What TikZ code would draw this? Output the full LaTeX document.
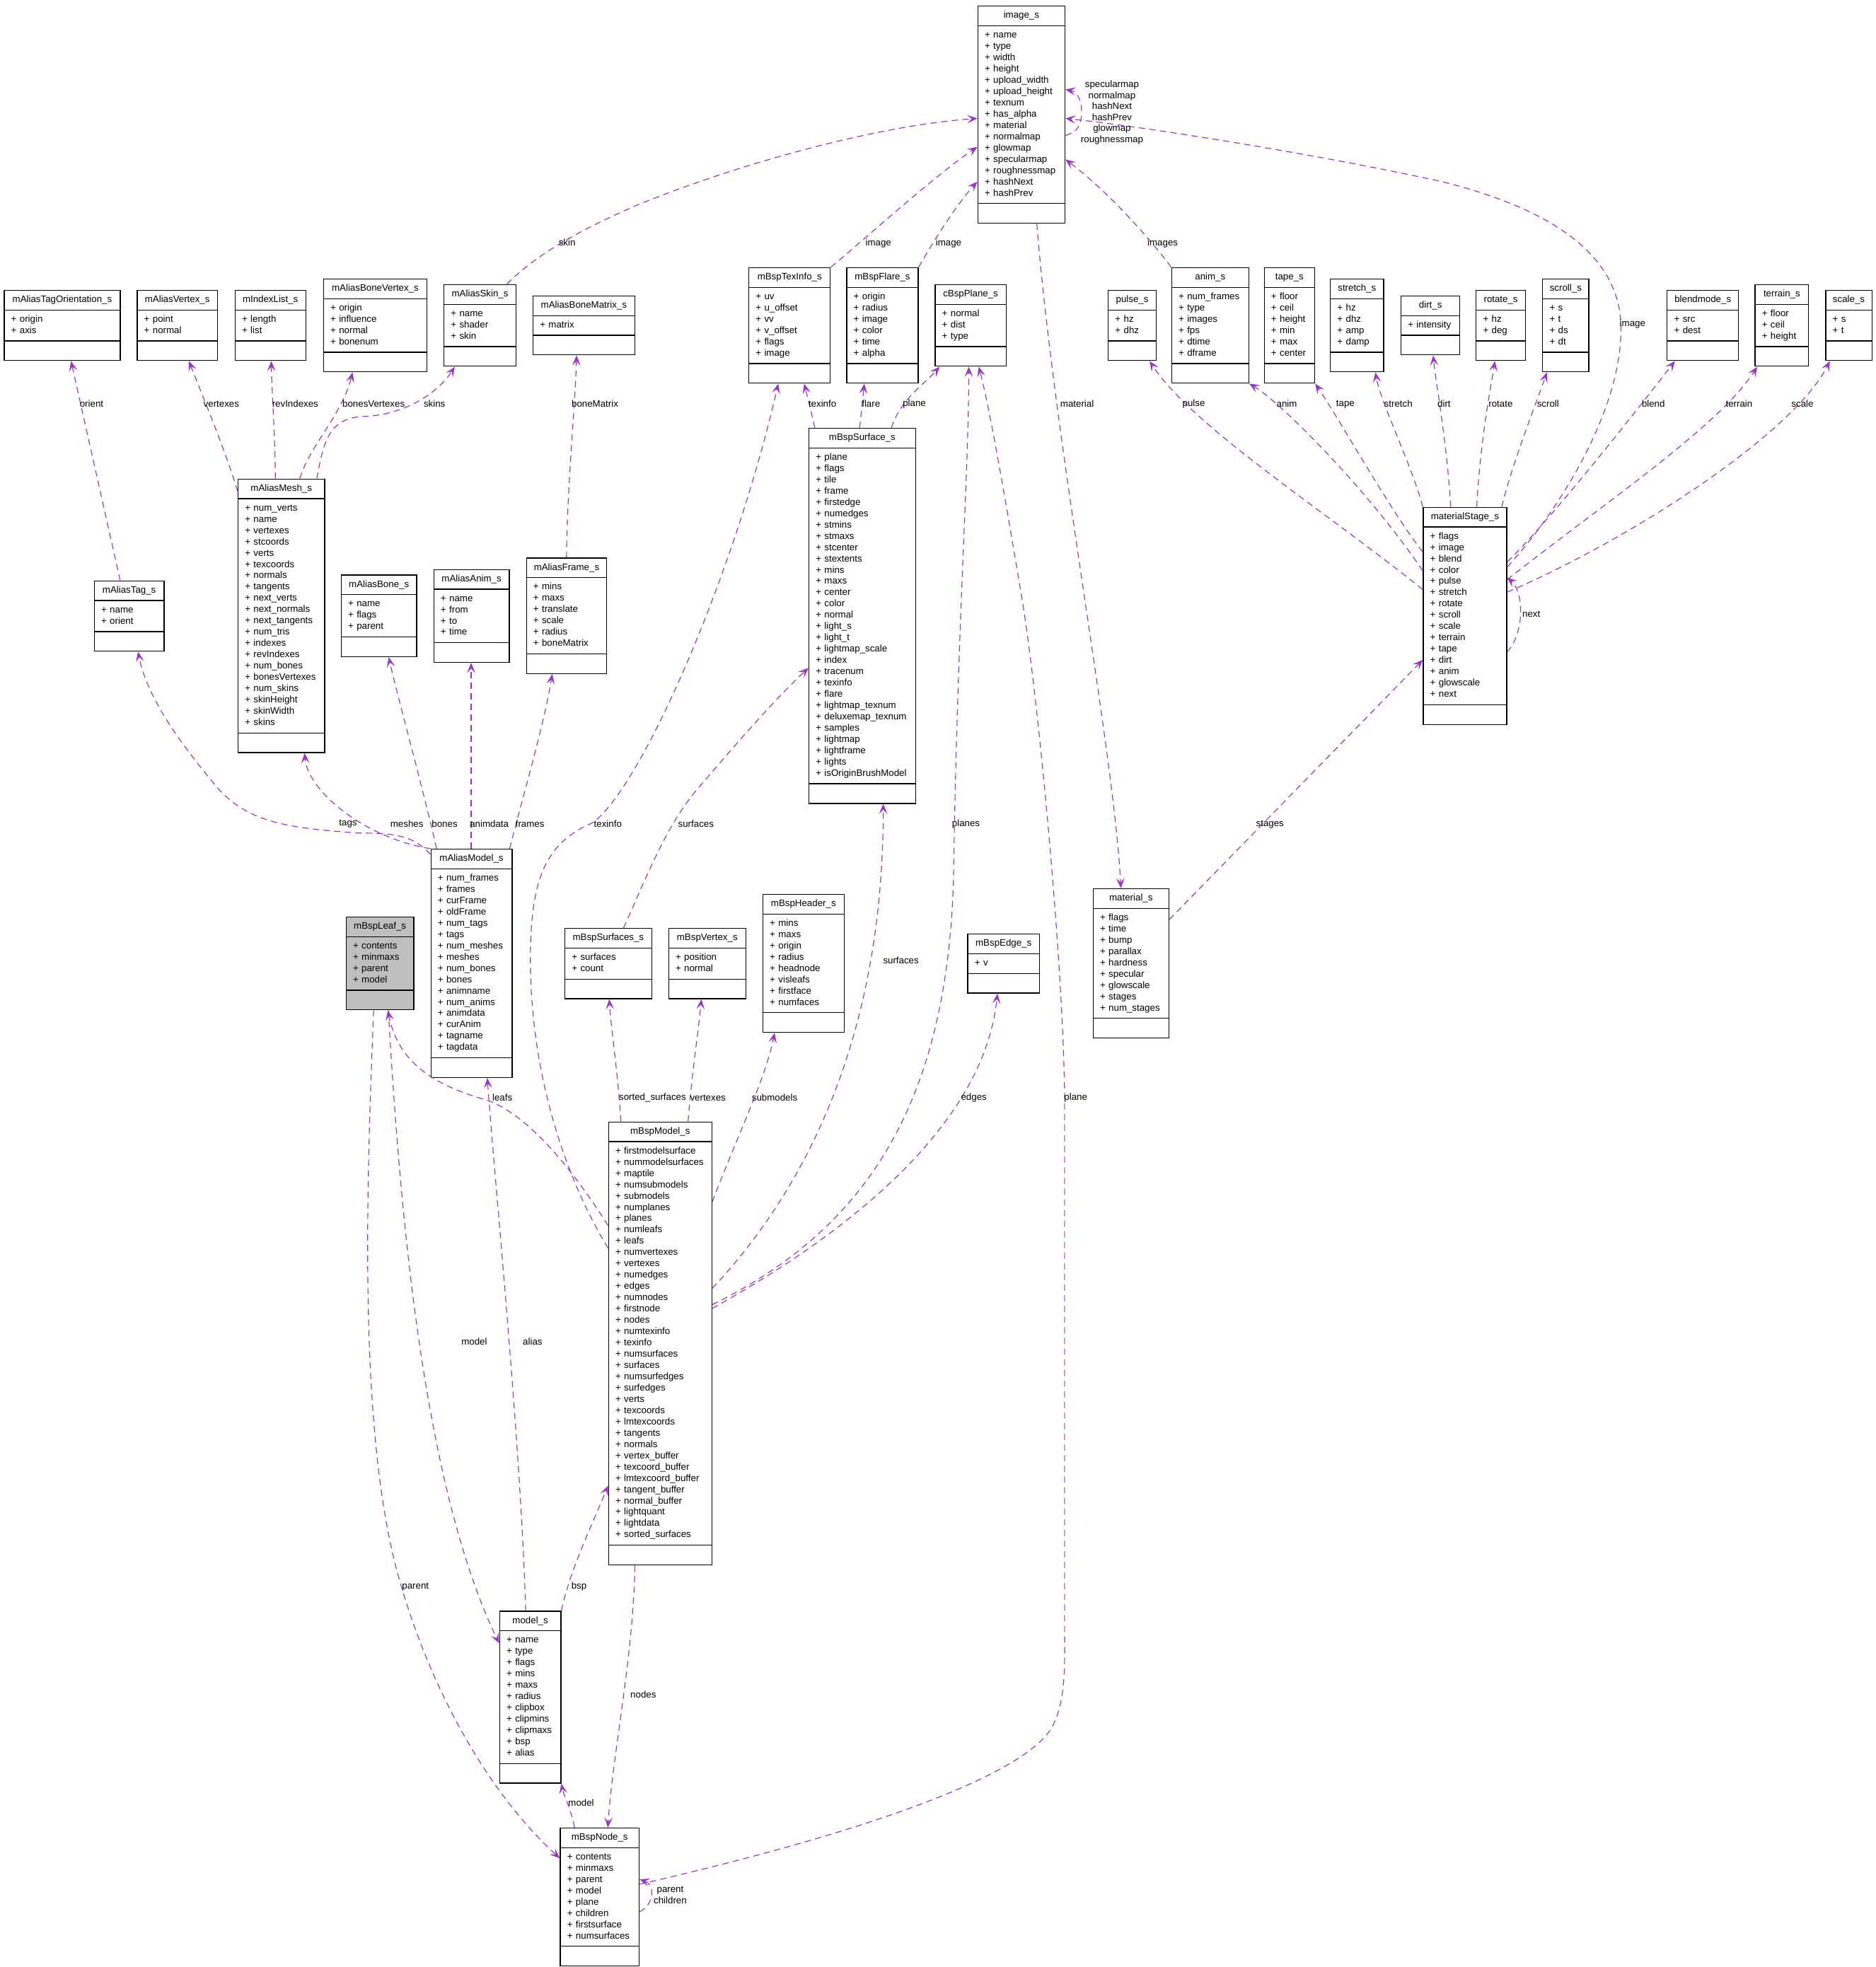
\documentclass[tikz,border=0pt]{standalone}
\usepackage{fontspec}
\setmainfont{Liberation Sans}
\usepackage{tikz}
\usetikzlibrary{shapes.multipart, arrows.meta}
\definecolor{edgepurple}{RGB}{154,50,205}
\definecolor{leafgray}{RGB}{191,191,191}
\tikzset{
  cls/.style={rectangle split, rectangle split parts=3, draw=black, line width=0.7pt, fill=white,
    anchor=north west, inner xsep=5.5pt, inner ysep=3pt, text width=#1, align=left,
    font=\fontsize{7.5}{9}\selectfont},
  rel/.style={draw=edgepurple, line width=0.65pt, dash pattern=on 5pt off 3.5pt,
    -{Stealth[length=8pt,width=6.5pt,inset=3.5pt]}},
  lbl/.style={font=\fontsize{7.5}{8.8}\selectfont, inner sep=0pt, align=center}
}
\newcommand{\ctitle}[1]{\makebox[\linewidth][c]{\strut #1}}

\begin{document}
\begin{tikzpicture}[x=1pt, y=-1pt]
  \useasboundingbox (0,0) rectangle (1495,1568);

  % top row
  \node[cls=58.5pt] (imgs) at (779,4.5) {\ctitle{image\_s}
    \nodepart{two}\strut+ name\\+ type\\+ width\\+ height\\+ upload\_width\\+ upload\_height\\+ texnum\\+ has\_alpha\\+ material\\+ normalmap\\+ glowmap\\+ specularmap\\+ roughnessmap\\+ hashNext\\+ hashPrev\strut
    \nodepart{three}\strut};
  \node[cls=81.5pt] (tagor) at (3,231) {\ctitle{mAliasTagOrientation\_s}
    \nodepart{two}\strut+ origin\\+ axis\strut \nodepart{three}\strut};
  \node[cls=53pt] (avert) at (109,231) {\ctitle{mAliasVertex\_s}
    \nodepart{two}\strut+ point\\+ normal\strut \nodepart{three}\strut};
  \node[cls=45.3pt] (idxl) at (187,231) {\ctitle{mIndexList\_s}
    \nodepart{two}\strut+ length\\+ list\strut \nodepart{three}\strut};
  \node[cls=71.5pt] (bvert) at (257.5,222) {\ctitle{mAliasBoneVertex\_s}
    \nodepart{two}\strut+ origin\\+ influence\\+ normal\\+ bonenum\strut \nodepart{three}\strut};
  \node[cls=46.5pt] (askin) at (353.5,226.5) {\ctitle{mAliasSkin\_s}
    \nodepart{two}\strut+ name\\+ shader\\+ skin\strut \nodepart{three}\strut};
  \node[cls=70pt] (bmat) at (424.5,235.5) {\ctitle{mAliasBoneMatrix\_s}
    \nodepart{two}\strut+ matrix\strut \nodepart{three}\strut};
  \node[cls=54pt] (texi) at (596.5,213) {\ctitle{mBspTexInfo\_s}
    \nodepart{two}\strut+ uv\\+ u\_offset\\+ vv\\+ v\_offset\\+ flags\\+ image\strut \nodepart{three}\strut};
  \node[cls=46pt] (flare) at (674.5,213) {\ctitle{mBspFlare\_s}
    \nodepart{two}\strut+ origin\\+ radius\\+ image\\+ color\\+ time\\+ alpha\strut \nodepart{three}\strut};
  \node[cls=45.5pt] (planeS) at (745,226.5) {\ctitle{cBspPlane\_s}
    \nodepart{two}\strut+ normal\\+ dist\\+ type\strut \nodepart{three}\strut};
  \node[cls=27.2pt] (pulse) at (883,231) {\ctitle{pulse\_s}
    \nodepart{two}\strut+ hz\\+ dhz\strut \nodepart{three}\strut};
  \node[cls=50.5pt] (anim) at (933.5,213) {\ctitle{anim\_s}
    \nodepart{two}\strut+ num\_frames\\+ type\\+ images\\+ fps\\+ dtime\\+ dframe\strut \nodepart{three}\strut};
  \node[cls=29.2pt] (tape) at (1007.3,213) {\ctitle{tape\_s}
    \nodepart{two}\strut+ floor\\+ ceil\\+ height\\+ min\\+ max\\+ center\strut \nodepart{three}\strut};
  \node[cls=31.5pt] (stretch) at (1060,222) {\ctitle{stretch\_s}
    \nodepart{two}\strut+ hz\\+ dhz\\+ amp\\+ damp\strut \nodepart{three}\strut};
  \node[cls=36pt] (dirt) at (1116.3,235.5) {\ctitle{dirt\_s}
    \nodepart{two}\strut+ intensity\strut \nodepart{three}\strut};
  \node[cls=28.3pt] (rotate) at (1176.2,231) {\ctitle{rotate\_s}
    \nodepart{two}\strut+ hz\\+ deg\strut \nodepart{three}\strut};
  \node[cls=25.8pt] (scroll) at (1229.2,222) {\ctitle{scroll\_s}
    \nodepart{two}\strut+ s\\+ t\\+ ds\\+ dt\strut \nodepart{three}\strut};
  \node[cls=45.8pt] (blend) at (1328.5,231) {\ctitle{blendmode\_s}
    \nodepart{two}\strut+ src\\+ dest\strut \nodepart{three}\strut};
  \node[cls=31.7pt] (terrain) at (1398.5,226.5) {\ctitle{terrain\_s}
    \nodepart{two}\strut+ floor\\+ ceil\\+ height\strut \nodepart{three}\strut};
  \node[cls=25.8pt] (scaleS) at (1454.8,231) {\ctitle{scale\_s}
    \nodepart{two}\strut+ s\\+ t\strut \nodepart{three}\strut};

  % middle row
  \node[cls=58pt] (mesh) at (189.4,381.5) {\ctitle{mAliasMesh\_s}
    \nodepart{two}\strut+ num\_verts\\+ name\\+ vertexes\\+ stcoords\\+ verts\\+ texcoords\\+ normals\\+ tangents\\+ next\_verts\\+ next\_normals\\+ next\_tangents\\+ num\_tris\\+ indexes\\+ revIndexes\\+ num\_bones\\+ bonesVertexes\\+ num\_skins\\+ skinHeight\\+ skinWidth\\+ skins\strut
    \nodepart{three}\strut};
  \node[cls=74pt] (surf) at (644.4,341) {\ctitle{mBspSurface\_s}
    \nodepart{two}\strut+ plane\\+ flags\\+ tile\\+ frame\\+ firstedge\\+ numedges\\+ stmins\\+ stmaxs\\+ stcenter\\+ stextents\\+ mins\\+ maxs\\+ center\\+ color\\+ normal\\+ light\_s\\+ light\_t\\+ lightmap\_scale\\+ index\\+ tracenum\\+ texinfo\\+ flare\\+ lightmap\_texnum\\+ deluxemap\_texnum\\+ samples\\+ lightmap\\+ lightframe\\+ lights\\+ isOriginBrushModel\strut
    \nodepart{three}\strut};
  \node[cls=44.7pt] (atag) at (74.8,462.7) {\ctitle{mAliasTag\_s}
    \nodepart{two}\strut+ name\\+ orient\strut \nodepart{three}\strut};
  \node[cls=49.2pt] (abone) at (271.6,458) {\ctitle{mAliasBone\_s}
    \nodepart{two}\strut+ name\\+ flags\\+ parent\strut \nodepart{three}\strut};
  \node[cls=49.2pt] (aanim) at (345.4,453.6) {\ctitle{mAliasAnim\_s}
    \nodepart{two}\strut+ name\\+ from\\+ to\\+ time\strut \nodepart{three}\strut};
  \node[cls=53.1pt] (aframe) at (419.2,444.5) {\ctitle{mAliasFrame\_s}
    \nodepart{two}\strut+ mins\\+ maxs\\+ translate\\+ scale\\+ radius\\+ boneMatrix\strut \nodepart{three}\strut};
  \node[cls=55.6pt] (stage) at (1134,404) {\ctitle{materialStage\_s}
    \nodepart{two}\strut+ flags\\+ image\\+ blend\\+ color\\+ pulse\\+ stretch\\+ rotate\\+ scroll\\+ scale\\+ terrain\\+ tape\\+ dirt\\+ anim\\+ glowscale\\+ next\strut
    \nodepart{three}\strut};
  \node[cls=53.7pt] (amodel) at (343.1,676.5) {\ctitle{mAliasModel\_s}
    \nodepart{two}\strut+ num\_frames\\+ frames\\+ curFrame\\+ oldFrame\\+ num\_tags\\+ tags\\+ num\_meshes\\+ meshes\\+ num\_bones\\+ bones\\+ animname\\+ num\_anims\\+ animdata\\+ curAnim\\+ tagname\\+ tagdata\strut
    \nodepart{three}\strut};
  \node[cls=43pt, fill=leafgray] (leaf) at (275.5,730.6) {\ctitle{mBspLeaf\_s}
    \nodepart{two}\strut+ contents\\+ minmaxs\\+ parent\\+ model\strut \nodepart{three}\strut};
  \node[cls=58.1pt] (surfs) at (449.9,739.7) {\ctitle{mBspSurfaces\_s}
    \nodepart{two}\strut+ surfaces\\+ count\strut \nodepart{three}\strut};
  \node[cls=50.5pt] (bvtx) at (532.6,739.7) {\ctitle{mBspVertex\_s}
    \nodepart{two}\strut+ position\\+ normal\strut \nodepart{three}\strut};
  \node[cls=53.7pt] (hdr) at (607.7,712.5) {\ctitle{mBspHeader\_s}
    \nodepart{two}\strut+ mins\\+ maxs\\+ origin\\+ radius\\+ headnode\\+ visleafs\\+ firstface\\+ numfaces\strut \nodepart{three}\strut};
  \node[cls=46.1pt] (edge) at (771,744.2) {\ctitle{mBspEdge\_s}
    \nodepart{two}\strut+ v\strut \nodepart{three}\strut};
  \node[cls=49.4pt] (mat) at (870.9,708) {\ctitle{material\_s}
    \nodepart{two}\strut+ flags\\+ time\\+ bump\\+ parallax\\+ hardness\\+ specular\\+ glowscale\\+ stages\\+ num\_stages\strut \nodepart{three}\strut};

  % bottom
  \node[cls=71.3pt] (bmodel) at (484.7,894) {\ctitle{mBspModel\_s}
    \nodepart{two}\strut+ firstmodelsurface\\+ nummodelsurfaces\\+ maptile\\+ numsubmodels\\+ submodels\\+ numplanes\\+ planes\\+ numleafs\\+ leafs\\+ numvertexes\\+ vertexes\\+ numedges\\+ edges\\+ numnodes\\+ firstnode\\+ nodes\\+ numtexinfo\\+ texinfo\\+ numsurfaces\\+ surfaces\\+ numsurfedges\\+ surfedges\\+ verts\\+ texcoords\\+ lmtexcoords\\+ tangents\\+ normals\\+ vertex\_buffer\\+ texcoord\_buffer\\+ lmtexcoord\_buffer\\+ tangent\_buffer\\+ normal\_buffer\\+ lightquant\\+ lightdata\\+ sorted\_surfaces\strut
    \nodepart{three}\strut};
  \node[cls=37.8pt] (model) at (397.9,1284) {\ctitle{model\_s}
    \nodepart{two}\strut+ name\\+ type\\+ flags\\+ mins\\+ maxs\\+ radius\\+ clipbox\\+ clipmins\\+ clipmaxs\\+ bsp\\+ alias\strut \nodepart{three}\strut};
  \node[cls=51.8pt] (bnode) at (446.2,1456.8) {\ctitle{mBspNode\_s}
    \nodepart{two}\strut+ contents\\+ minmaxs\\+ parent\\+ model\\+ plane\\+ children\\+ firstsurface\\+ numsurfaces\strut \nodepart{three}\strut};

  % connectors
  \draw[rel] (mesh.west |- 0,391.6) .. controls (180,360) and (160,312) .. (avert.south -| 150.5,0);
  \draw[rel] (mesh.north -| 219.5,0) .. controls (219,340) and (216.5,310) .. (idxl.south -| 216.2,0);
  \draw[rel] (mesh.north -| 238.9,0) .. controls (247,355) and (273,330) .. (bvert.south -| 281,0);
  \draw[rel] (mesh.north -| 252.5,0) .. controls (258,352) and (262,333) .. (290,332) .. controls (320,331) and (348,315) .. (askin.south -| 362.5,0);
  \draw[rel] (atag.north -| 95.8,0) -- (tagor.south -| 56.6,0);
  \draw[rel] (aframe.north -| 451.5,0) .. controls (452,390) and (458,330) .. (bmat.south -| 459.6,0);
  \draw[rel] (askin.north -| 404,0) .. controls (430,200) and (470,180) .. (507.5,163.6) .. controls (590,130) and (700,100) .. (imgs.west |- 0,94.4);
  \draw[rel] (texi.north east) .. controls (690,190) and (745,140) .. (imgs.west |- 0,117.1);
  \draw[rel] (flare.north east) .. controls (745,190) and (765,160) .. (imgs.west |- 0,144.8);
  \draw[rel] (imgs.east |- 0,108) .. controls (862,104) and (862,96) .. (862,88) .. controls (862,79) and (858,73) .. (imgs.east |- 0,71.4);
  \draw[rel] (anim.north west) .. controls (915,188) and (880,150) .. (imgs.east |- 0,127.1);
  \draw[rel] (stage.east |- 0,452) .. controls (1240,410) and (1292,330) .. (1292,262) .. controls (1292,200) and (1230,165) .. (1150,145) .. controls (1060,125) and (920,102) .. (imgs.east |- 0,94.4);
  \draw[rel] (imgs.south -| 826.4,0) .. controls (840,350) and (888,600) .. (mat.north -| 893.4,0);
  \draw[rel] (surf.north -| 649.5,0) -- (texi.south -| 641,0);
  \draw[rel] (surf.north -| 685.2,0) -- (flare.south -| 688.9,0);
  \draw[rel] (surf.north -| 710.5,0) .. controls (718,318) and (735,308) .. (planeS.south -| 749,0);
  \draw[rel] (stage.west |- 0,470) .. controls (1060,410) and (950,340) .. (pulse.south -| 916.3,0);
  \draw[rel] (stage.west |- 0,455) .. controls (1090,390) and (1020,320) .. (anim.south east);
  \draw[rel] (stage.west |- 0,440) .. controls (1110,410) and (1065,330) .. (tape.south east);
  \draw[rel] (stage.north west) .. controls (1125,370) and (1100,320) .. (stretch.south -| 1096.3,0);
  \draw[rel] (stage.north -| 1156.3,0) .. controls (1153,350) and (1145,310) .. (dirt.south -| 1142.3,0);
  \draw[rel] (stage.north -| 1177,0) .. controls (1180,350) and (1188,310) .. (rotate.south -| 1191.5,0);
  \draw[rel] (stage.north -| 1197,0) .. controls (1205,370) and (1225,320) .. (scroll.south -| 1232.9,0);
  \draw[rel] (stage.east |- 0,448) .. controls (1240,410) and (1310,320) .. (blend.south -| 1335,0);
  \draw[rel] (stage.east |- 0,462) .. controls (1280,400) and (1370,340) .. (terrain.south -| 1400.6,0);
  \draw[rel] (stage.east |- 0,472) .. controls (1300,430) and (1430,345) .. (scaleS.south -| 1458.5,0);
  \draw[rel] (stage.east |- 0,519.6) .. controls (1215,505) and (1215,472) .. (stage.east |- 0,460.4);
  \draw[rel] (amodel.west |- 0,681) .. controls (330,667) and (318,664) .. (285,664) .. controls (230,660) and (200,656) .. (175,630) .. controls (150,600) and (118,560) .. (atag.south -| 110,0);
  \draw[rel] (amodel.north west) .. controls (290,668) and (245,630) .. (mesh.south -| 242.8,0);
  \draw[rel] (amodel.north -| 348,0) .. controls (335,620) and (318,560) .. (abone.south -| 309.8,0);
  \draw[rel] (amodel.north -| 375.5,0) -- (aanim.south -| 375.5,0);
  \draw[rel] (amodel.north -| 406.2,0) .. controls (418,630) and (433,580) .. (aframe.south -| 440.2,0);
  \draw[rel] (bmodel.west |- 0,995) .. controls (445,930) and (420,840) .. (423,750) .. controls (425,700) and (435,672) .. (472,656) .. controls (510,630) and (585,460) .. (texi.south -| 620.3,0);
  \draw[rel] (bmodel.west |- 0,977) .. controls (455,930) and (420,888) .. (388,877) .. controls (350,866) and (318,850) .. (leaf.south -| 309.1,0);
  \draw[rel] (bmodel.north -| 494.9,0) .. controls (492,850) and (487,820) .. (surfs.south -| 485.6,0);
  \draw[rel] (bmodel.north -| 548.4,0) .. controls (552,850) and (557,820) .. (bvtx.south -| 559,0);
  \draw[rel] (bmodel.east |- 0,958) .. controls (590,900) and (610,860) .. (hdr.south -| 617.4,0);
  \draw[rel] (bmodel.east |- 0,1027) .. controls (640,950) and (704,830) .. (surf.south -| 704,0);
  \draw[rel] (bmodel.east |- 0,1040) .. controls (690,980) and (755,880) .. (760,700) .. controls (763,500) and (772,380) .. (planeS.south -| 772.2,0);
  \draw[rel] (bmodel.east |- 0,1043) .. controls (690,975) and (785,890) .. (edge.south -| 795,0);
  \draw[rel] (bmodel.south -| 506,0) .. controls (505,1320) and (488,1400) .. (bnode.north -| 484.5,0);
  \draw[rel] (surfs.north -| 497,0) .. controls (515,700) and (530,660) .. (555,630) .. controls (585,595) and (615,560) .. (surf.west |- 0,532.4);
  \draw[rel] (mat.east |- 0,733) -- (stage.west |- 0,526);
  \draw[rel] (leaf.south -| 309.5,0) .. controls (318,950) and (335,1180) .. (model.west |- 0,1310);
  \draw[rel] (leaf.south -| 297.8,0) .. controls (292,950) and (285,1150) .. (320,1265) .. controls (345,1350) and (390,1430) .. (bnode.west |- 0,1481.3);
  \draw[rel] (model.north -| 419,0) .. controls (415,1150) and (395,950) .. (amodel.south -| 388.4,0);
  \draw[rel] (model.north east) .. controls (455,1250) and (470,1220) .. (bmodel.west |- 0,1184.2);
  \draw[rel] (bnode.north -| 458,0) .. controls (455,1442) and (449,1430) .. (model.south east);
  \draw[rel] (bnode.east |- 0,1524) .. controls (522,1518) and (522,1502) .. (bnode.east |- 0,1498.2);
  \draw[rel] (bnode.east |- 0,1502) .. controls (650,1470) and (800,1425) .. (835,1382) .. controls (850,1362) and (848.5,1330) .. (848.5,1300) -- (848.5,880) .. controls (848.5,780) and (828,560) .. (815,480) .. controls (805,420) and (790,330) .. (planeS.south -| 780.1,0);

  % labels
  \node[lbl] (lOrient) at (73,322) {orient};
  \node[lbl] (lVert) at (176.4,322) {vertexes};
  \node[lbl] (lRevIdx) at (235.3,322) {revIndexes};
  \node[lbl] (lBonesV) at (297.8,322) {bonesVertexes};
  \node[lbl] (lSkins) at (346.3,322) {skins};
  \node[lbl] (lBoneMat) at (474.2,322) {boneMatrix};
  \node[lbl] (lSkin) at (452,193.5) {skin};
  \node[lbl] (lImgTex) at (700.1,193.8) {image};
  \node[lbl] (lImgFlare) at (756.1,193.8) {image};
  \node[lbl] (lImages) at (926.7,193.8) {images};
  \node[lbl] (lImgSelf) at (886.3,89.7) {specularmap\\normalmap\\hashNext\\hashPrev\\glowmap\\roughnessmap};
  \node[lbl] (lTexinfo) at (655.5,321.7) {texinfo};
  \node[lbl] (lFlare) at (694.2,321.7) {flare};
  \node[lbl] (lPlane) at (728.8,321.7) {plane};
  \node[lbl] (lMaterial) at (858.5,321.7) {material};
  \node[lbl] (lPulse) at (951.5,322) {pulse};
  \node[lbl] (lAnim) at (1025.6,322) {anim};
  \node[lbl] (lTape) at (1072.3,322) {tape};
  \node[lbl] (lStretch) at (1114.5,322) {stretch};
  \node[lbl] (lDirt) at (1151,322) {dirt};
  \node[lbl] (lRotate) at (1196.1,322) {rotate};
  \node[lbl] (lScroll) at (1233.8,322) {scroll};
  \node[lbl] (lImgStage) at (1301.2,258) {image};
  \node[lbl] (lBlend) at (1317.8,322) {blend};
  \node[lbl] (lTerrain) at (1386.1,322) {terrain};
  \node[lbl] (lScale) at (1436.6,322) {scale};
  \node[lbl] (lNext) at (1220.5,489.4) {next};
  \node[lbl] (lTags) at (277.4,656.8) {tags};
  \node[lbl] (lMeshes) at (324.3,656.8) {meshes};
  \node[lbl] (lBones) at (354.4,656.8) {bones};
  \node[lbl] (lAnimdata) at (390,656.8) {animdata};
  \node[lbl] (lFrames) at (422.4,656.8) {frames};
  \node[lbl] (lTexinfoM) at (484.5,656.8) {texinfo};
  \node[lbl] (lSurfacesS) at (554.7,656.8) {surfaces};
  \node[lbl] (lPlanes) at (769.9,656.8) {planes};
  \node[lbl] (lStages) at (1012.2,657) {stages};
  \node[lbl] (lSurfacesM) at (718.1,765.8) {surfaces};
  \node[lbl] (lLeafs) at (400.4,874.8) {leafs};
  \node[lbl] (lSorted) at (520.1,875.1) {sorted\_surfaces};
  \node[lbl] (lVertM) at (564.2,875.1) {vertexes};
  \node[lbl] (lSubmodels) at (617.4,875.1) {submodels};
  \node[lbl] (lEdges) at (776.2,875.1) {edges};
  \node[lbl] (lPlaneN) at (857.4,874.9) {plane};
  \node[lbl] (lModelL) at (378,1069.5) {model};
  \node[lbl] (lAlias) at (424.5,1069.7) {alias};
  \node[lbl] (lParent) at (331.1,1264.7) {parent};
  \node[lbl] (lBsp) at (461.5,1264.7) {bsp};
  \node[lbl] (lNodes) at (512.7,1350.9) {nodes};
  \node[lbl] (lModelN) at (463.2,1437.1) {model};
  \node[lbl] (lParChild) at (534.2,1510.6) {parent\\children};
\end{tikzpicture}
\end{document}
